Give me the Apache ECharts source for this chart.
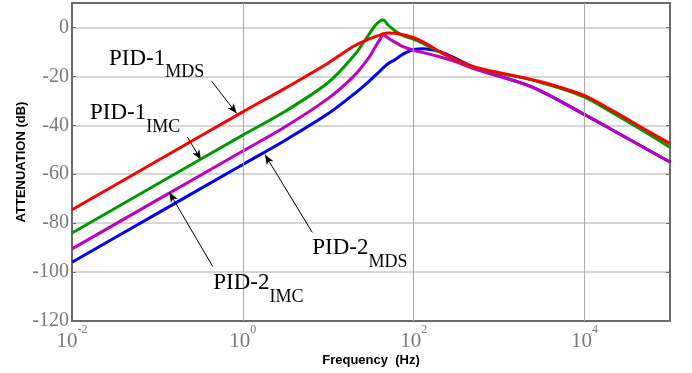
<!DOCTYPE html>
<html><head><meta charset="utf-8">
<script src="https://cdn.jsdelivr.net/npm/echarts@6/dist/echarts.min.js"></script>
<style>html,body{margin:0;padding:0;background:#fff}#c{width:692px;height:373px}</style>
</head><body><div id="c"></div>
<script>
// Frequency points (Hz)
const freq = [0.01, 0.1, 1, 3, 10, 20, 30, 35, 40, 44, 50, 60, 70, 80, 100, 130, 200, 300, 500, 1000, 2000, 3000, 5000, 10000, 20000, 50000, 100000];
// Attenuation (dB)
const pid1MDS = [-74.5, -54.5, -34.5, -25.2, -14.5, -7.6, -4.7, -3.8, -3.1, -2.6, -2.3, -2.4, -2.8, -3.2, -4.2, -6.0, -9.8, -12.9, -16.0, -18.5, -20.6, -22.1, -24.3, -27.9, -33.5, -41.5, -47.5];
const pid1IMC = [-84, -64, -44, -34.7, -22.5, -11.5, -2.8, 0.6, 2.5, 3.0, 1.0, -1.3, -2.8, -3.7, -4.9, -6.6, -10.0, -13.0, -16.1, -18.7, -20.8, -22.4, -24.7, -28.5, -34.3, -42.5, -49];
const pid2IMC = [-90.5, -70.5, -50.5, -41, -29, -19.8, -12.2, -8.3, -5.1, -3.0, -4.3, -6.0, -7.3, -8.2, -9.4, -10.3, -12.0, -13.8, -16.8, -20.0, -23.2, -25.8, -29.8, -35.6, -41.4, -49.2, -55];
const pid2MDS = [-96, -76, -56, -46.5, -35.2, -27.2, -22.0, -19.8, -17.9, -16.5, -14.8, -13.2, -11.6, -10.4, -9.0, -8.7, -9.9, -12.4, -16.2, -19.8, -23.2, -25.8, -29.8, -35.6, -41.4, -49.2, -55];

const seriesNames = ['PID-1 MDS', 'PID-1 IMC', 'PID-2 IMC', 'PID-2 MDS'];
const seriesColors = ['#ff0000', '#009a00', '#c000c0', '#0000ff'];

const xMin = 0.01, xMax = 100000;
const yMin = -120, yMax = 10, yStep = 20;
const gridFreqs = [1, 100, 10000];

// Annotation arrows (tail -> head) in data coordinates [Hz, dB]
const arrows = [
  [[0.4315, -22.0], [0.847, -35.2]],
  [[0.224, -44.8], [0.3236, -54.1]],
  [[0.4436, -97.7], [0.1377, -67.4]],
  [[6.50, -83.8], [1.816, -52.0]]
];
// Annotation labels: main text, subscript, anchor (left, middle) in data coordinates
const labelMain = ['PID-1', 'PID-1', 'PID-2', 'PID-2'];
const labelSub = ['MDS', 'IMC', 'MDS', 'IMC'];
const labelAt = [[0.0271, -12.7], [0.01625, -35.0], [6.50, -90.1], [0.451, -104.4]];

const serif = 'Liberation Serif';
const sans = 'Liberation Sans';
const tickGray = '#7a7a7a';
const axisGray = '#6a6a6a';

const chart = echarts.init(document.getElementById('c'), null, {renderer: 'canvas'});

function xLabel(v) {
  const e = Math.round(Math.log10(v));
  if (e % 2 !== 0) return '';
  return '{b|10}{e|' + e + '}';
}

const curveData = [pid1MDS, pid1IMC, pid2IMC, pid2MDS];
const curveSeries = curveData.map((vals, i) => ({
  name: seriesNames[i],
  type: 'line',
  data: freq.map((f, k) => [f, vals[k]]),
  showSymbol: false,
  smooth: 0.3,
  z: 3 + (i === 0 ? 3 : i === 1 ? 2 : i === 2 ? 1 : 0),
  lineStyle: {color: seriesColors[i], width: 3},
  itemStyle: {color: seriesColors[i]},
  silent: true
}));

const option = {
  animation: false,
  backgroundColor: '#ffffff',
  grid: {left: 72, right: 22, top: 3, bottom: 52, containLabel: false, outerBoundsMode: 'none'},
  xAxis: [{
    type: 'log', logBase: 10, min: xMin, max: xMax,
    position: 'bottom',
    name: 'Frequency  (Hz)', nameLocation: 'middle', nameGap: 33, nameMoveOverlap: false,
    nameTextStyle: {fontFamily: sans, fontWeight: 'bold', fontSize: 13, color: '#000'},
    axisLine: {show: true, onZero: false, lineStyle: {color: axisGray, width: 2}},
    axisTick: {show: false},
    splitLine: {show: false},
    axisLabel: {
      margin: 9, formatter: xLabel,
      rich: {
        b: {fontFamily: serif, fontSize: 21, color: tickGray, lineHeight: 22},
        e: {fontFamily: serif, fontSize: 12, color: tickGray, lineHeight: 12, padding: [0, 0, 22, 0]}
      }
    }
  }, {
    type: 'log', logBase: 10, min: xMin, max: xMax,
    position: 'top',
    axisLine: {show: true, onZero: false, lineStyle: {color: axisGray, width: 2}},
    axisTick: {show: false}, axisLabel: {show: false}, splitLine: {show: false}
  }],
  yAxis: [{
    type: 'value', min: yMin, max: yMax, interval: yStep,
    position: 'left',
    name: 'ATTENUATION (dB)', nameLocation: 'middle', nameGap: 44, nameMoveOverlap: false,
    nameTextStyle: {fontFamily: sans, fontWeight: 'bold', fontSize: 13, color: '#000'},
    axisLine: {show: true, onZero: false, lineStyle: {color: axisGray, width: 2}},
    axisTick: {show: true, inside: true, length: 4, lineStyle: {color: axisGray}},
    axisLabel: {
      margin: 3, fontFamily: serif, fontSize: 20, color: tickGray,
      showMaxLabel: false,
      formatter: v => (v > 0 ? '' : String(v))
    },
    splitLine: {show: true, showMinLine: false, showMaxLine: false, lineStyle: {color: '#c8c8c8', width: 1.5}}
  }, {
    type: 'value', min: yMin, max: yMax, interval: yStep,
    position: 'right',
    axisLine: {show: true, onZero: false, lineStyle: {color: axisGray, width: 2}},
    axisTick: {show: true, inside: true, length: 4, lineStyle: {color: axisGray}},
    axisLabel: {show: false}, splitLine: {show: false}
  }],
  series: [{
    name: 'grid-v', type: 'line', data: [], z: 1, silent: true,
    markLine: {
      silent: true, symbol: 'none', animation: false,
      label: {show: false},
      lineStyle: {color: '#a8a8a8', width: 1, type: 'solid'},
      data: gridFreqs.map(f => ({xAxis: f}))
    }
  }].concat(curveSeries).concat([{
    name: 'arrows', type: 'line', data: [], z: 10, silent: true,
    markLine: {
      silent: true, animation: false,
      symbol: ['none', 'arrow'], symbolSize: [6, 10],
      label: {show: false},
      lineStyle: {color: '#000', width: 1, type: 'solid'},
      data: arrows.map(a => [{coord: a[0]}, {coord: a[1]}])
    }
  }])
};
chart.setOption(option);

const graphics = labelAt.map((p, i) => {
  const px = chart.convertToPixel({gridIndex: 0}, p);
  return {
    type: 'text', x: px[0], y: px[1], z: 20, silent: true,
    style: {
      text: '{m|' + labelMain[i] + '}{s|' + labelSub[i] + '}',
      textAlign: 'left', textVerticalAlign: 'middle',
      rich: {
        m: {fontFamily: serif, fontSize: 23, color: '#000', lineHeight: 26},
        s: {fontFamily: serif, fontSize: 18, color: '#000', lineHeight: 20, padding: [28, 0, 0, 0]}
      }
    }
  };
});
chart.setOption({graphic: graphics});
</script>
</body></html>
